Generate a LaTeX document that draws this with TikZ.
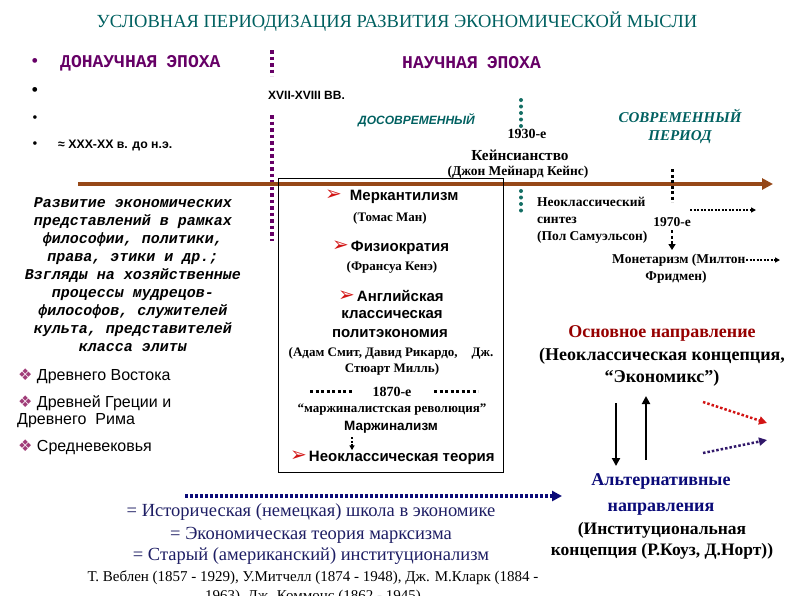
\documentclass[tikz,border=0pt]{standalone}
\usepackage{fontspec}
\setmainfont{Liberation Serif}
\setsansfont{Liberation Sans}
\setmonofont{Liberation Mono}
\newfontfamily\dingfont{DejaVu Sans}
\usetikzlibrary{arrows.meta}
\definecolor{titleteal}{RGB}{0,96,96}
\definecolor{eraviolet}{RGB}{102,0,102}
\definecolor{linebrown}{RGB}{150,72,24}
\definecolor{dotteal}{RGB}{20,110,100}
\definecolor{arrowred}{RGB}{210,20,20}
\definecolor{bulletpink}{RGB}{160,60,120}
\definecolor{darkred}{RGB}{150,0,0}
\definecolor{navy}{RGB}{10,10,120}
\definecolor{schoolblue}{RGB}{30,30,100}
\begin{document}
\begin{tikzpicture}[x=1pt,y=-1pt,
  era/.style={font=\fontsize{18}{20}\selectfont\ttfamily\bfseries,text=eraviolet},
  sbold/.style={font=\fontsize{15}{17}\selectfont\sffamily\bfseries},
  rbold/.style={font=\fontsize{13}{15}\selectfont\bfseries},
  side/.style={font=\fontsize{13.5}{15}\selectfont\bfseries},
  main/.style={font=\fontsize{18}{20}\selectfont\bfseries},
  school/.style={font=\fontsize{18.5}{20}\selectfont,text=schoolblue},
  purpledots/.style={eraviolet,line width=4pt,dash pattern=on 3.5pt off 3pt},
  tealdots/.style={dotteal,line width=4pt,line cap=round,dash pattern=on 0pt off 6.5pt},
  blackdots/.style={black,line width=3pt,dash pattern=on 3pt off 2.5pt},
  smalldots/.style={black,line width=1.2pt,dash pattern=on 2pt off 1.5pt,-{Triangle[length=5pt,width=5pt]}},
  every node/.style={inner sep=0pt}]
\useasboundingbox (0,0) rectangle (794,595);
% title and eras
\node[font=\fontsize{18.5}{20}\selectfont,text=titleteal] (title) at (397,22) {УСЛОВНАЯ ПЕРИОДИЗАЦИЯ РАЗВИТИЯ ЭКОНОМИЧЕСКОЙ МЫСЛИ};
\node[text=eraviolet,font=\fontsize{20}{20}\selectfont] (b1) at (35,63) {•};
\node[font=\fontsize{20}{20}\selectfont] (b2) at (35,92) {•};
\node[font=\fontsize{15}{15}\selectfont] (b3) at (35,119) {•};
\node[font=\fontsize{15}{15}\selectfont] (b4) at (35,145) {•};
\node[era,anchor=west] (pre) at (60,63) {ДОНАУЧНАЯ\hspace{9pt}ЭПОХА};
\node[era,anchor=west] (sci) at (402,63) {НАУЧНАЯ\hspace{9pt}ЭПОХА};
\node[anchor=west,font=\fontsize{12}{14}\selectfont\sffamily\bfseries] (xvii) at (268,95) {XVII-XVIII ВВ.};
\node[anchor=west,font=\fontsize{12.3}{14}\selectfont\sffamily\bfseries] (xxx) at (58,145) {≈ XXX-XX в. до н.э.};
\node[anchor=west,text=titleteal,font=\fontsize{12}{14}\selectfont\sffamily\bfseries\itshape] (premod) at (358,120) {ДОСОВРЕМЕННЫЙ};
\node[text=titleteal,font=\fontsize{15}{18}\selectfont\bfseries\itshape,align=center] (mod) at (680,126) {СОВРЕМЕННЫЙ\\ПЕРИОД};
\node[font=\fontsize{14}{16}\selectfont\bfseries] (y1930) at (527,134) {1930-е};
\node[font=\fontsize{15.3}{16}\selectfont\bfseries] (keyn) at (520,155) {Кейнсианство};
\node[font=\fontsize{13.5}{14}\selectfont\bfseries] (keynes) at (518,172) {(Джон Мейнард Кейнс)};
% dotted marks
\coordinate (p0) at (272,50); \coordinate (p1) at (272,76);
\coordinate (p2) at (272,115); \coordinate (p3) at (272,241);
\draw[purpledots] (p0) -- (p1);
\draw[purpledots] (p2) -- (p3);
\coordinate (k0) at (521,100); \coordinate (k1) at (521,128);
\coordinate (k2) at (521,191); \coordinate (k3) at (521,216);
\draw[tealdots] (k0) -- (k1);
\draw[tealdots] (k2) -- (k3);
% time line
\coordinate (t0) at (78,184); \coordinate (t1) at (773,184);
\draw[linebrown,line width=4pt,-{Triangle[length=11pt,width=11pt]}] (t0) -- (t1);
\coordinate (m0) at (672,169); \coordinate (m1) at (672,202);
\draw[blackdots] (m0) -- (m1);
% scientific era box
\draw[black,line width=0.8pt] (278,178) rectangle (503,472);
\node[sbold,anchor=west] (merc) at (325,197) {{\dingfont\fontsize{20}{20}\selectfont\textcolor{arrowred}{➢}}\hspace{8pt}Меркантилизм};
\node[rbold] (mun) at (390,218) {(Томас Ман)};
\node[sbold,anchor=west] (phys) at (332,248) {{\dingfont\fontsize{20}{20}\selectfont\textcolor{arrowred}{➢}}\hspace{2pt}Физиократия};
\node[rbold] (quesnay) at (392,267) {(Франсуа Кенэ)};
\node[sbold,anchor=west] (engl) at (338,296) {{\dingfont\fontsize{20}{20}\selectfont\textcolor{arrowred}{➢}}\hspace{2pt}Английская};
\node[sbold] (cls) at (392,315) {классическая};
\node[sbold] (pol) at (390,334) {политэкономия};
\node[rbold] (smith) at (391,353) {(Адам Смит, Давид Рикардо,\hspace{14pt}Дж.};
\node[rbold] (mill) at (392,369) {Стюарт Милль)};
\node[font=\fontsize{14}{16}\selectfont\bfseries] (y1870) at (392,392) {1870-е};
\coordinate (d0) at (310,391); \coordinate (d1) at (352,391);
\coordinate (d2) at (434,391); \coordinate (d3) at (478,391);
\draw[blackdots] (d0) -- (d1);
\draw[blackdots] (d2) -- (d3);
\node[rbold] (rev) at (392,410) {“маржиналистская революция"};
\node[font=\fontsize{13.5}{15}\selectfont\sffamily\bfseries] (marg) at (391,427) {Маржинализм};
\node[sbold,anchor=west] (neo) at (290,458) {{\dingfont\fontsize{20}{20}\selectfont\textcolor{arrowred}{➢}}\hspace{2pt}Неоклассическая теория};
\draw[smalldots,line width=2pt] (marg.south) ++(-39,4) coordinate (a0) (a0) -- ++(0,13) coordinate (a1);
% prescientific text
\node[font=\fontsize{15}{18}\selectfont\ttfamily\bfseries\itshape,align=center] (philo) at (133,275)
  {Развитие экономических\\представлений в рамках\\философии, политики,\\права, этики и др.;\\Взгляды на хозяйственные\\процессы мудрецов-\\философов, служителей\\культа, представителей\\класса элиты};
\node[anchor=west,font=\fontsize{16}{18}\selectfont\sffamily] (east) at (18,376) {{\dingfont\textcolor{bulletpink}{❖}} Древнего Востока};
\node[anchor=west,font=\fontsize{16}{18}\selectfont\sffamily] (greece) at (18,403) {{\dingfont\textcolor{bulletpink}{❖}} Древней Греции и};
\node[anchor=west,font=\fontsize{16}{18}\selectfont\sffamily] (rome) at (17,421) {Древнего\hspace{9pt}Рима};
\node[anchor=west,font=\fontsize{16}{18}\selectfont\sffamily] (midage) at (18,447) {{\dingfont\textcolor{bulletpink}{❖}} Средневековья};
% modern period
\node[anchor=west,align=left,font=\fontsize{13.5}{17}\selectfont\bfseries] (synth) at (537,220) {Неоклассический\\синтез\\(Пол Самуэльсон)};
\node[side] (y1970) at (672,222) {1970-е};
\coordinate (s0) at (690,210); \coordinate (s1) at (756,210);
\draw[smalldots] (s0) -- (s1);
\coordinate (f0) at (672,230); \coordinate (f1) at (672,250);
\draw[blackdots,line width=2.5pt,-{Triangle[length=6pt,width=7pt]}] (f0) -- (f1);
\node[side,anchor=west] (monet) at (612,260) {Монетаризм (Милтон};
\node[side] (fried) at (676,277) {Фридмен)};
\coordinate (g0) at (746,260); \coordinate (g1) at (780,260);
\draw[smalldots] (g0) -- (g1);
\node[main,text=darkred] (mainline) at (662,333) {Основное направление};
\node[main,align=center,font=\fontsize{18}{22}\selectfont\bfseries] (neocl) at (662,367) {(Неоклассическая концепция,\\“Экономикс”)};
\coordinate (v0) at (616,403); \coordinate (v1) at (616,466);
\coordinate (w0) at (646,460); \coordinate (w1) at (646,396);
\draw[line width=2.2pt,-{Triangle[length=8pt,width=8pt]}] (v0) -- (v1);
\draw[line width=2.2pt,-{Triangle[length=8pt,width=8pt]}] (w0) -- (w1);
\coordinate (r0) at (703,402); \coordinate (r1) at (767,423);
\coordinate (u0) at (703,453); \coordinate (u1) at (767,440);
\draw[arrowred,line width=2.5pt,dash pattern=on 2.5pt off 2pt,-{Triangle[length=8pt,width=8pt]}] (r0) -- (r1);
\draw[schoolblue!80!violet,line width=2.5pt,dash pattern=on 2.5pt off 2pt,-{Triangle[length=8pt,width=8pt]}] (u0) -- (u1);
\node[main,text=navy,align=center,font=\fontsize{18}{26}\selectfont\bfseries] (alt) at (661,494) {Альтернативные\\направления};
\node[align=center,font=\fontsize{17.5}{21}\selectfont\bfseries] (inst) at (662,541) {(Институциональная\\концепция (Р.Коуз, Д.Норт))};
% alternative schools
\coordinate (h0) at (185,496); \coordinate (h1) at (562,496);
\draw[navy,line width=4pt,dash pattern=on 3pt off 2pt,-{Triangle[length=10pt,width=10pt]}] (h0) -- (h1);
\node[school] (hist) at (311,512) {= Историческая (немецкая) школа в экономике};
\node[school] (marx) at (311,535) {= Экономическая теория марксизма};
\node[school] (old) at (311,556) {= Старый (американский) институционализм};
\node[font=\fontsize{15}{19}\selectfont,align=center] (names) at (313,587) {Т. Веблен (1857 - 1929), У.Митчелл (1874 - 1948), Дж. М.Кларк (1884 -\\1963), Дж. Коммонс (1862 - 1945)};
\end{tikzpicture}
\end{document}
